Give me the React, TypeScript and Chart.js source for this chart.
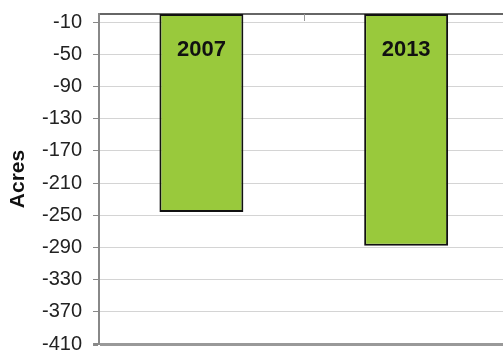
import React, { useEffect, useRef } from "react";
import { Chart, registerables } from "chart.js";

Chart.register(...registerables);

const categories = ["2007", "2013"];
const acres = [-246, -288];
const yTickValues = [-10, -50, -90, -130, -170, -210, -250, -290, -330, -370, -410];
const yMin = -410;
const yMax = 0;
const yTitle = "Acres";

const FONT = "'Liberation Sans', Arial, sans-serif";

const labelPlugin = {
  id: "barLabels",
  afterDatasetsDraw(chart: any) {
    const { ctx } = chart;
    const meta = chart.getDatasetMeta(0);
    const yScale = chart.scales.y;
    const xScale = chart.scales.x;
    ctx.save();
    const xMid = (xScale.getPixelForValue(0) + xScale.getPixelForValue(1)) / 2;
    const y0 = yScale.getPixelForValue(0);
    ctx.strokeStyle = "#999";
    ctx.lineWidth = 1;
    ctx.beginPath();
    ctx.moveTo(Math.round(xMid) + 0.5, y0);
    ctx.lineTo(Math.round(xMid) + 0.5, y0 + 7);
    ctx.stroke();
    ctx.fillStyle = "#111";
    ctx.font = `bold 22px ${FONT}`;
    ctx.textAlign = "center";
    ctx.textBaseline = "middle";
    meta.data.forEach((bar: any, i: number) => {
      ctx.fillText(categories[i], bar.x, bar.base + 36);
    });
    ctx.restore();
  },
};

export default function App() {
  const ref = useRef<HTMLCanvasElement | null>(null);
  useEffect(() => {
    if (!ref.current) return;
    const chart = new Chart(ref.current, {
      type: "bar",
      data: {
        labels: categories,
        datasets: [
          {
            data: acres,
            backgroundColor: "#99C93C",
            borderColor: "#111",
            borderWidth: 2,
            borderSkipped: false,
            categoryPercentage: 1,
            barPercentage: 0.41,
          },
        ],
      },
      options: {
        responsive: false,
        animation: false,
        devicePixelRatio: 1,
        layout: { padding: { left: 0, right: 3.5, top: 14, bottom: 5 } },
        plugins: {
          legend: { display: false },
          tooltip: { enabled: false },
        },
        scales: {
          x: {
            position: "top",
            ticks: { display: false },
            grid: { display: false, drawTicks: false },
            border: { display: true, color: "#666", width: 2 },
          },
          y: {
            min: yMin,
            max: yMax,
            afterBuildTicks(scale: any) {
              scale.ticks = yTickValues.map((v) => ({ value: v }));
            },
            ticks: {
              color: "#222",
              font: { family: FONT, size: 20 },
              padding: 11,
            },
            grid: {
              color: (c: any) => (c.tick && c.tick.value === yMin ? "#999" : "#d4d4d4"),
              lineWidth: (c: any) => (c.tick && c.tick.value === yMin ? 3 : 1),
              tickColor: "#888",
              tickLength: 6,
            },
            border: { display: true, color: "#888", width: 2 },
            title: {
              display: true,
              text: yTitle,
              color: "#111",
              font: { family: FONT, size: 21, weight: "bold" },
              padding: { top: 5.6, bottom: 0.2 },
            },
          },
        },
      },
      plugins: [labelPlugin],
    });
    return () => chart.destroy();
  }, []);
  return (
    <div
      style={{
        position: "fixed",
        left: 0,
        top: 0,
        width: 503,
        height: 350,
        overflow: "hidden",
        background: "#fff",
      }}
    >
      <canvas
        ref={ref}
        width={512}
        height={376}
        style={{ width: 512, height: 376, display: "block", marginTop: -9 }}
      />
    </div>
  );
}
